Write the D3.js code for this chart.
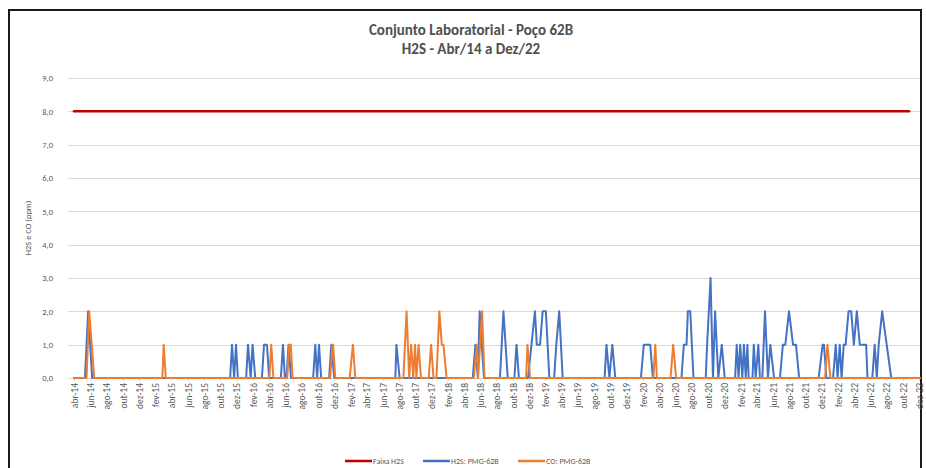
<!DOCTYPE html>
<html><head><meta charset="utf-8">
<script src="https://cdn.jsdelivr.net/npm/d3@7"></script>
<style>
html,body{margin:0;padding:0;background:#fff;}
svg{display:block;}
</style></head>
<body>
<svg id="chart" width="926" height="468"></svg>
<script>
// ---------------- DATA ----------------
const titleLines = ["Conjunto Laboratorial - Poço 62B", "H2S - Abr/14 a Dez/22"];
const yAxisTitle = "H2S e CO (ppm)";
const yTicks = [0,1,2,3,4,5,6,7,8,9];
const xTickLabels = ["abr-14","jun-14","ago-14","out-14","dez-14","fev-15","abr-15","jun-15","ago-15","out-15","dez-15","fev-16","abr-16","jun-16","ago-16","out-16","dez-16","fev-17","abr-17","jun-17","ago-17","out-17","dez-17","fev-18","abr-18","jun-18","ago-18","out-18","dez-18","fev-19","abr-19","jun-19","ago-19","out-19","dez-19","fev-20","abr-20","jun-20","ago-20","out-20","dez-20","fev-21","abr-21","jun-21","ago-21","out-21","dez-21","fev-22","abr-22","jun-22","ago-22","out-22","dez-22"];
const seriesNames = ["Faixa H2S", "H2S: PMG-62B", "CO: PMG-62B"];

const faixaDates = ["2014-04-01","2022-10-25"];
const faixaValues = [8, 8];

const h2sDates = ["2014-04-01","2014-05-12","2014-05-24","2014-06-08","2015-11-07","2015-11-14","2015-11-22","2015-11-29","2015-12-06",
"2016-01-06","2016-01-13","2016-01-23","2016-01-30","2016-02-09","2016-03-05","2016-03-13","2016-03-24","2016-04-01",
"2016-05-15","2016-05-23","2016-05-30","2016-06-05","2016-06-13","2016-06-22","2016-09-13","2016-09-21","2016-09-28",
"2016-10-05","2016-10-13","2016-11-12","2016-11-20","2016-12-01","2017-07-18","2017-07-22","2017-08-03",
"2018-05-04","2018-05-14","2018-05-23","2018-05-30","2018-06-15","2018-08-14","2018-08-27","2018-09-12",
"2018-10-07","2018-10-15","2018-10-24","2018-11-27","2018-12-10","2018-12-23","2018-12-30","2019-01-11","2019-01-21",
"2019-02-02","2019-02-15","2019-03-05","2019-03-13","2019-03-24","2019-04-06","2019-09-10","2019-09-17","2019-09-28",
"2019-10-09","2019-10-20","2020-01-24","2020-02-04","2020-02-28","2020-03-09","2020-06-24","2020-07-03","2020-07-13",
"2020-07-18","2020-07-27","2020-08-08","2020-09-23","2020-09-28","2020-10-11","2020-10-20","2020-10-28","2020-11-09",
"2020-11-22","2020-12-03","2021-01-11","2021-01-17","2021-01-24","2021-01-30","2021-02-07","2021-02-13","2021-02-20",
"2021-02-26","2021-03-03","2021-03-17","2021-03-22","2021-03-29","2021-04-08","2021-04-14","2021-04-23","2021-05-03",
"2021-05-14","2021-05-23","2021-06-06","2021-06-28","2021-07-09","2021-07-18","2021-08-01","2021-08-16","2021-08-27",
"2021-09-08","2021-11-20","2021-12-05","2021-12-10","2021-12-19","2022-01-13","2022-01-23","2022-01-30","2022-02-07",
"2022-02-14","2022-02-22","2022-03-01","2022-03-12","2022-03-22","2022-04-01","2022-04-12","2022-04-23","2022-05-17",
"2022-05-22","2022-06-09","2022-06-18","2022-06-26","2022-07-03","2022-07-16","2022-08-19","2022-12-05"];
const h2sValues = [0,0,2,0,0,1,0,1,0,
0,1,0,1,0,0,1,1,0,
0,1,0,0,1,0,0,1,0,
1,0,0,1,0,0,1,0,
0,1,0,2,0,0,2,0,
0,1,0,0,1,2,1,1,2,
2,0,0,1,2,0,0,1,0,
1,0,0,1,1,0,0,1,1,
2,2,0,0,1,3,0,2,0,
1,0,0,1,0,1,0,1,0,
1,0,0,1,0,1,0,0,2,
0,1,0,0,1,1,2,1,1,
0,0,1,1,0,0,1,0,1,
0,1,1,2,2,1,2,1,1,
0,0,1,0,1,2,0,0];

const coDates = ["2014-04-01","2014-05-18","2014-05-28","2014-06-16","2015-02-26","2015-03-03","2015-03-11",
"2016-04-02","2016-04-09","2016-04-17","2016-06-08","2016-06-15","2016-06-21","2016-06-28",
"2016-11-16","2016-11-24","2016-11-27","2016-12-05","2017-01-28","2017-02-09","2017-02-18",
"2017-08-17","2017-08-29","2017-09-08","2017-09-15","2017-09-23","2017-09-30","2017-10-05","2017-10-13","2017-10-22",
"2017-11-20","2017-11-29","2017-12-08","2017-12-19","2017-12-30","2018-01-08","2018-01-14","2018-01-26",
"2018-05-08","2018-05-19","2018-05-24","2018-06-08","2018-06-17","2018-11-20","2018-11-25","2018-12-05",
"2020-03-11","2020-03-18","2020-03-24","2020-05-14","2020-05-24","2020-06-04",
"2021-12-14","2021-12-23","2022-01-03","2022-12-05"];
const coValues = [0,0,2,0,0,1,0,
0,1,0,0,1,1,0,
0,1,1,0,0,1,0,
0,2,0,1,0,1,0,1,0,
0,1,0,0,2,1,1,0,
0,1,0,2,0,0,1,0,
0,1,0,0,1,0,
0,1,0,0];

// ---------------- CHART ----------------
const svg = d3.select("#chart");
const font = "Carlito,Lato,'Liberation Sans',sans-serif";
const textColor = "#595959";
const colors = ["#c00000", "#4472c4", "#ed7d31"];

const monthMap = {jan:0,fev:1,mar:2,abr:3,mai:4,jun:5,jul:6,ago:7,set:8,out:9,nov:10,dez:11};
const parseLabel = s => { const [m, y] = s.split("-"); return new Date(2000 + (+y), monthMap[m], 1); };
const parseDate = d3.timeParse("%Y-%m-%d");

const x = d3.scaleTime()
  .domain([parseLabel(xTickLabels[0]), parseLabel(xTickLabels[xTickLabels.length - 1])])
  .range([74, 919]);
const y = d3.scaleLinear().domain([0, 9]).range([378, 78]);

const ptLocale = d3.formatLocale({decimal: ",", thousands: ".", grouping: [3], currency: ["R$", ""]});
const fmt = ptLocale.format(".1f");

// frame
svg.append("rect").attr("x", 9).attr("y", 10).attr("width", 912).attr("height", 480)
  .attr("fill", "none").attr("stroke", "#1a1a1a").attr("stroke-width", 2);

// title
svg.append("g").selectAll("text").data(titleLines).join("text")
  .attr("x", 471).attr("y", (d, i) => 35 + i * 18.5)
  .attr("text-anchor", "middle")
  .attr("font-family", font).attr("font-size", 15).attr("font-weight", "bold")
  .attr("fill", "#505050").text(d => d);

// gridlines
svg.append("g").selectAll("line").data(yTicks).join("line")
  .attr("x1", 68).attr("x2", 920)
  .attr("y1", d => Math.round(y(d)) + 0.5).attr("y2", d => Math.round(y(d)) + 0.5)
  .attr("stroke", "#d9d9d9").attr("stroke-width", 1);

// y axis labels
const yAxis = d3.axisLeft(y).tickValues(yTicks).tickFormat(fmt).tickSize(0).tickPadding(0);
const gy = svg.append("g").attr("transform", "translate(53,0)").call(yAxis);
gy.select(".domain").remove();
gy.selectAll("text").attr("font-family", font).attr("font-size", 8.5).attr("fill", textColor);

// y axis title
svg.append("text")
  .attr("transform", `translate(28,${y(4.5)}) rotate(-90)`)
  .attr("text-anchor", "middle").attr("dy", "0.35em")
  .attr("font-family", font).attr("font-size", 8.5).attr("fill", textColor)
  .text(yAxisTitle);

// x axis
const xTickDates = xTickLabels.map(parseLabel);
const xAxis = d3.axisBottom(x).tickValues(xTickDates)
  .tickFormat((d, i) => xTickLabels[i]).tickSize(3).tickPadding(2);
const gx = svg.append("g").attr("transform", `translate(0,${y(0)})`).call(xAxis);
gx.select(".domain").attr("stroke", "#d9d9d9");
gx.selectAll(".tick line").attr("stroke", "#d9d9d9");
gx.selectAll("text")
  .attr("font-family", font).attr("font-size", 9.5).attr("fill", textColor)
  .attr("text-anchor", "end")
  .attr("transform", "rotate(-90)")
  .attr("x", -5).attr("y", 0).attr("dy", "0.35em");

// lines
const line = d3.line().x(d => x(d[0])).y(d => y(d[1]));
const faixa = faixaDates.map((d, i) => [parseDate(d), faixaValues[i]]);
const h2s = h2sDates.map((d, i) => [parseDate(d), h2sValues[i]]);
const co = coDates.map((d, i) => [parseDate(d), coValues[i]]);

[[faixa, colors[0], 2.5], [h2s, colors[1], 2], [co, colors[2], 2]].forEach(([data, c, w]) => {
  svg.append("path").datum(data).attr("d", line)
    .attr("fill", "none").attr("stroke", c).attr("stroke-width", w)
    .attr("stroke-linejoin", "round").attr("stroke-linecap", "round");
});

// legend
const legendX = [345, 423, 518];
const lg = svg.append("g").selectAll("g").data(seriesNames).join("g")
  .attr("transform", (d, i) => `translate(${legendX[i]},461)`);
lg.append("line").attr("x1", 0).attr("x2", 27).attr("y1", 0).attr("y2", 0)
  .attr("stroke", (d, i) => colors[i]).attr("stroke-width", 2.5);
lg.append("text").attr("x", 28).attr("dy", "0.35em")
  .attr("font-family", font).attr("font-size", 8).attr("fill", textColor)
  .text(d => d);
</script>
</body></html>
